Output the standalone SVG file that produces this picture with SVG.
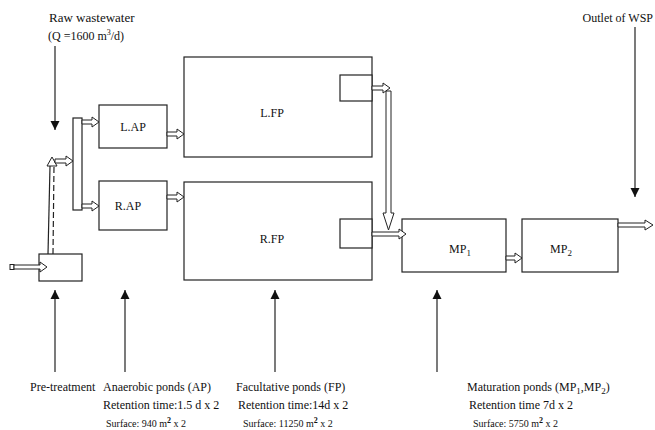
<svg xmlns="http://www.w3.org/2000/svg" width="655" height="430" viewBox="0 0 655 430">
<style>
text{font-family:"Liberation Serif","Times New Roman",serif;fill:#111;font-size:12px}
.sm{font-size:10px}
.top{font-size:13px}
.box{fill:#fff;stroke:#222;stroke-width:1.2}
.ha{fill:#fff;stroke:#222;stroke-width:1}
.ln{stroke:#222;stroke-width:1.2;fill:none}
</style>
<defs>
<marker id="ah" viewBox="0 0 10 10" refX="10" refY="5" markerWidth="9" markerHeight="10" markerUnits="userSpaceOnUse" orient="auto">
<path d="M0,0 L10,5 L0,10 z" fill="#111"/>
</marker>
</defs>
<rect width="655" height="430" fill="#fff"/>

<g id="pretreatment"><rect class="box" x="39" y="254" width="43" height="27"/></g>
<g id="distributor"><rect class="box" x="73" y="118" width="9" height="92"/></g>
<g id="LAP"><rect class="box" x="99" y="105" width="68" height="43"/><text x="133" y="131" text-anchor="middle">L.AP</text></g>
<g id="RAP"><rect class="box" x="99" y="181" width="68" height="49"/><text x="128" y="210" text-anchor="middle">R.AP</text></g>
<g id="LFP"><rect class="box" x="184" y="57" width="188" height="100"/><rect class="box" x="340" y="75" width="32" height="26"/><text x="272" y="117" text-anchor="middle">L.FP</text></g>
<g id="RFP"><rect class="box" x="184" y="182" width="188" height="98"/><rect class="box" x="340" y="219" width="32" height="29"/><text x="272" y="243" text-anchor="middle">R.FP</text></g>
<g id="MP1"><rect class="box" x="402" y="219" width="104" height="53"/><text x="460" y="253" text-anchor="middle">MP<tspan font-size="9" dy="3">1</tspan></text></g>
<g id="MP2"><rect class="box" x="522" y="219" width="96" height="53"/><text x="561" y="253" text-anchor="middle">MP<tspan font-size="9" dy="3">2</tspan></text></g>

<g id="connectors">
<rect class="ha" x="10" y="264.5" width="4" height="5"/>
<polygon class="ha" points="14,265 40,265 40,262 47,267 40,272 40,269 14,269"/>
<line class="ln" x1="48" y1="254" x2="50" y2="166" stroke-width="1"/>
<line class="ln" x1="53" y1="254" x2="54" y2="166" stroke-width="1" stroke-dasharray="6,3"/>
<polygon class="ha" points="47,166 52,157 57,166"/>
<polygon class="ha" points="55,159 66,159 66,156 73,161 66,166 66,163 55,163"/>
<polygon class="ha" points="82,120 92,120 92,117 99,122 92,127 92,124 82,124"/>
<polygon class="ha" points="82,204 92,204 92,201 99,206 92,211 92,208 82,208"/>
<polygon class="ha" points="167,132 177,132 177,129 184,134 177,139 177,136 167,136"/>
<polygon class="ha" points="167,195 177,195 177,192 184,197 177,202 177,199 167,199"/>
<polygon class="ha" points="372,86 383,86 383,83 390,88 383,93 383,90 372,90"/>
<polygon class="ha" points="386,91 386,213 383,213 388.5,230 394,213 391,213 391,91"/>
<polygon class="ha" points="372,232 399,232 399,229 406,234 399,239 399,236 372,236"/>
<polygon class="ha" points="506,256 515,256 515,253 522,258 515,263 515,260 506,260"/>
<polygon class="ha" points="618,223 645,223 645,220 653,225 645,230 645,227 618,227"/>

<line class="ln" x1="55" y1="46" x2="55" y2="130" marker-end="url(#ah)"/>
<line class="ln" x1="635" y1="27" x2="635" y2="197" marker-end="url(#ah)"/>
<line class="ln" x1="55" y1="372" x2="55" y2="290" marker-end="url(#ah)"/>
<line class="ln" x1="125" y1="372" x2="125" y2="290" marker-end="url(#ah)"/>
<line class="ln" x1="275" y1="372" x2="275" y2="290" marker-end="url(#ah)"/>
<line class="ln" x1="437" y1="372" x2="437" y2="290" marker-end="url(#ah)"/>
</g>

<g id="labels">
<text class="top" x="49" y="22">Raw wastewater</text>
<text x="48" y="40">(Q =1600 m<tspan font-size="8" dy="-5">3</tspan><tspan dy="5">/d)</tspan></text>
<text x="653" y="22" text-anchor="end">Outlet of WSP</text>
<text x="30" y="391">Pre-treatment</text>
<text x="103" y="391">Anaerobic ponds (AP)</text>
<text x="103" y="409">Retention time:1.5 d x 2</text>
<text class="sm" x="106" y="427">Surface: 940 m<tspan font-size="8" font-weight="bold" dy="-4">2</tspan><tspan dy="4"> x 2</tspan></text>
<text x="236" y="391">Facultative ponds (FP)</text>
<text x="238" y="409">Retention time:14d x 2</text>
<text class="sm" x="243" y="427">Surface: 11250 m<tspan font-size="8" font-weight="bold" dy="-4">2</tspan><tspan dy="4"> x 2</tspan></text>
<text x="467" y="391">Maturation ponds (MP<tspan font-size="9" dy="3">1</tspan><tspan dy="-3">,MP</tspan><tspan font-size="9" dy="3">2</tspan><tspan dy="-3">)</tspan></text>
<text x="469" y="409">Retention time 7d x 2</text>
<text class="sm" x="473" y="427">Surface: 5750 m<tspan font-size="8" font-weight="bold" dy="-4">2</tspan><tspan dy="4">  x 2</tspan></text>
</g>
</svg>
